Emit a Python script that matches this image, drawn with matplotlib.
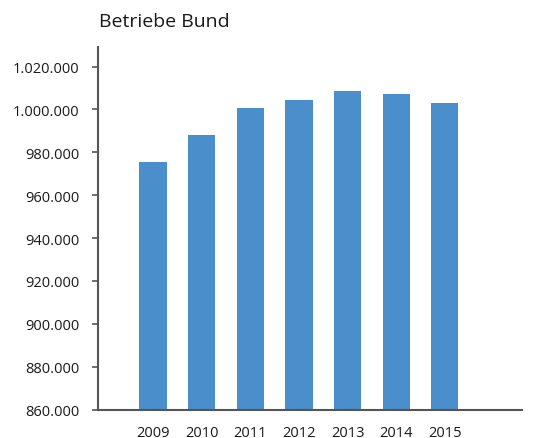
import matplotlib
matplotlib.use("Agg")
import matplotlib.pyplot as plt
from matplotlib.ticker import FuncFormatter

# ----------------------------
# DATA
# ----------------------------
years = ["2009", "2010", "2011", "2012", "2013", "2014", "2015"]
betriebe = [975500, 988100, 1000600, 1004400, 1008600, 1007200, 1003000]
yticks = [860000, 880000, 900000, 920000, 940000, 960000, 980000, 1000000, 1020000]

plt.rcParams["font.family"] = ["Open Sans", "DejaVu Sans"]

# ----------------------------
# PLOT
# ----------------------------
fig = plt.figure(figsize=(5.36, 4.39), dpi=100)
ax = fig.add_axes([0.183, 0.0645, 0.791, 0.8262])

x = list(range(len(years)))
ax.bar(x, betriebe, width=0.56, color="#4a8ecc")

ax.set_ylim(860000, 1029100)
ax.set_xlim(-1.13, 7.59)
ax.set_yticks(yticks)
ax.yaxis.set_major_formatter(
    FuncFormatter(lambda v, p: f"{int(v):,}".replace(",", "."))
)
ax.set_xticks(x)
ax.set_xticklabels(years)

for side in ["top", "right"]:
    ax.spines[side].set_visible(False)
for side in ["left", "bottom"]:
    ax.spines[side].set_color("#555555")
    ax.spines[side].set_linewidth(1.5)

ax.tick_params(axis="y", length=4, width=1.2, color="#555555",
               labelsize=10.5, labelcolor="#1a1a1a", pad=9.5)
ax.tick_params(axis="x", length=0, labelsize=10.5, labelcolor="#1a1a1a", pad=11)

fig.text(0.185, 0.938, "Betriebe Bund", fontsize=14, color="#1a1a1a",
         ha="left", va="baseline")

plt.savefig("out.png", dpi=100)
